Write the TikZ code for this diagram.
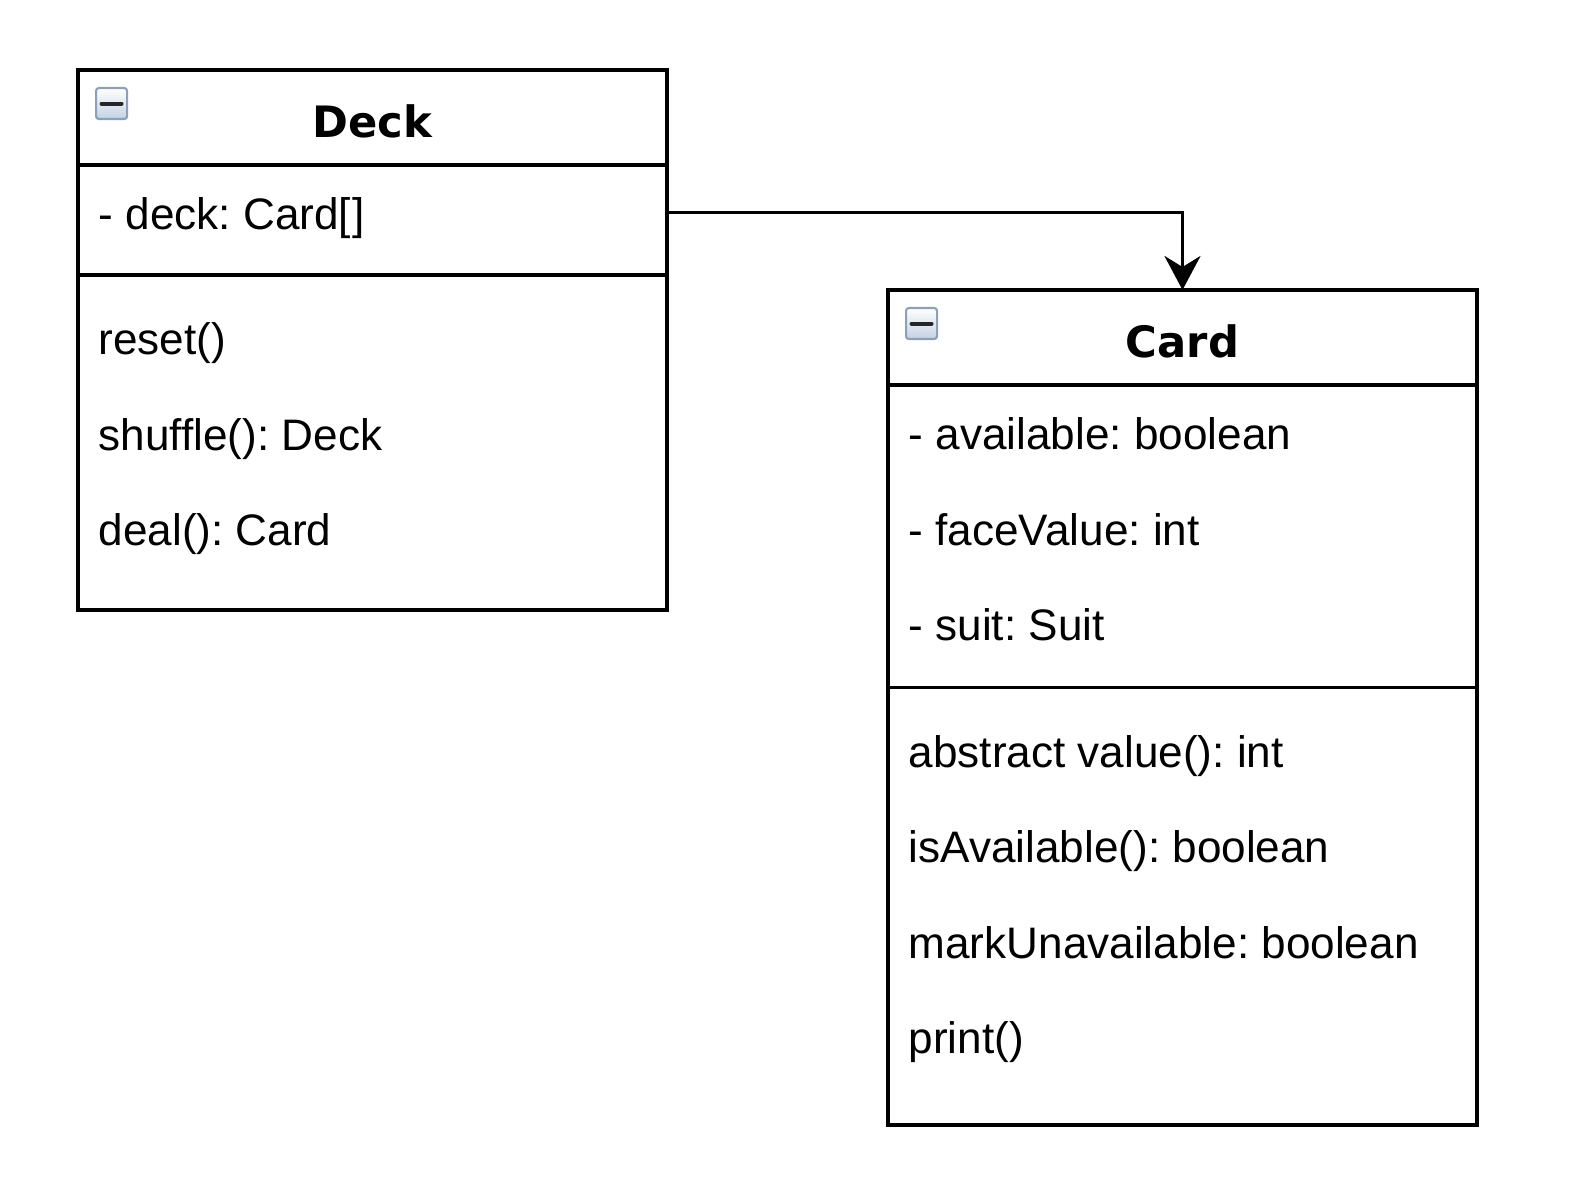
\documentclass[tikz,border=0pt]{standalone}
\usepackage{fontspec}
\setmainfont{Liberation Sans}
\newfontfamily\titlefont{DejaVu Sans}
\usetikzlibrary{arrows.meta, positioning}
\frenchspacing
\definecolor{iconEdge}{RGB}{140,160,185}
\definecolor{iconFill}{RGB}{196,210,226}
\tikzset{
  classhead/.style={draw, line width=1pt, outer sep=0pt, minimum width=5.89cm, minimum height=0.95cm, inner sep=0pt},
  classpart/.style={classhead, below=0pt of #1},
  classtitle/.style={font=\titlefont\bfseries\fontsize{12.3}{14}\selectfont, anchor=base, inner sep=0pt},
  item/.style={font=\fontsize{12.55}{14}\selectfont, anchor=base west, inner sep=0pt},
  icon/.style={draw=iconEdge, line width=0.6pt, rounded corners=0.8pt, top color=white, bottom color=iconFill,
    minimum size=0.31cm, inner sep=0pt,
    path picture={\draw[line width=0.04cm, line cap=round, black!85]
      ([xshift=-0.1cm]path picture bounding box.center) -- ([xshift=0.1cm]path picture bounding box.center);}},
}

\begin{document}
\begin{tikzpicture}[>={Stealth[length=0.34cm, width=0.36cm, inset=0.11cm]}]
\useasboundingbox (0,0) rectangle (15.78,-12.02);
% Deck
\node[classhead, anchor=north west] (deckhead) at (0.78,-0.70) {};
\node[classpart=deckhead, minimum height=1.10cm] (deckattr) {};
\node[classpart=deckattr, minimum height=3.35cm] (deckmeth) {};
\node[icon, below right=0.17cm and 0.17cm of deckhead.north west] (deckicon) {};
\node[classtitle] (decktitle) at ([yshift=-0.68cm]deckhead.north) {Deck};
\node[item] (deckfield) at ([xshift=0.2cm, yshift=-0.65cm]deckattr.north west) {- deck: Card[\kern0.04em]};
\node[item] (reset) at ([xshift=0.2cm, yshift=-0.80cm]deckmeth.north west) {reset()};
\node[item] (shuffle) at ([yshift=-0.955cm]reset.base west) {shuffle(): Deck};
\node[item] (deal) at ([yshift=-0.955cm]shuffle.base west) {deal(): Card};
% Card
\node[classhead, below right=2.20cm and 2.21cm of deckhead.north east] (cardhead) {};
\node[classpart=cardhead, minimum height=3.025cm] (cardattr) {};
\node[classpart=cardattr, minimum height=4.375cm] (cardmeth) {};
\node[icon, below right=0.17cm and 0.17cm of cardhead.north west] (cardicon) {};
\node[classtitle] (cardtitle) at ([yshift=-0.68cm]cardhead.north) {Card};
\node[item] (available) at ([xshift=0.2cm, yshift=-0.65cm]cardattr.north west) {- available: boolean};
\node[item] (facevalue) at ([yshift=-0.955cm]available.base west) {- faceValue: int};
\node[item] (suit) at ([yshift=-0.955cm]facevalue.base west) {- suit: Suit};
\node[item] (value) at ([xshift=0.2cm, yshift=-0.80cm]cardmeth.north west) {abstract value(): int};
\node[item] (isavailable) at ([yshift=-0.955cm]value.base west) {isAvailable(): boolean};
\node[item] (markunavailable) at ([yshift=-0.955cm]isavailable.base west) {markUnavailable: boolean};
\node[item] (print) at ([yshift=-0.955cm]markunavailable.base west) {print()};
% association
\draw[->, line width=1pt] ([yshift=0.075cm]deckattr.east) -| (cardhead.north);
\end{tikzpicture}
\end{document}
